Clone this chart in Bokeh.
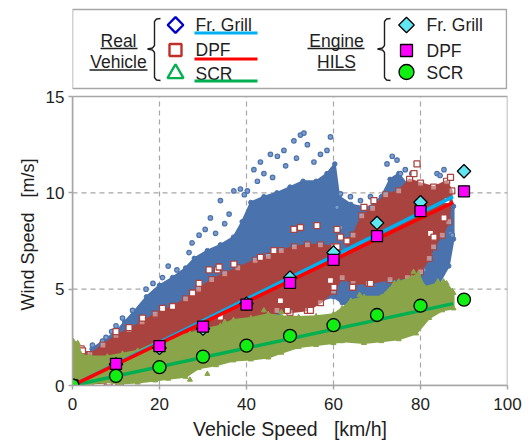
from bokeh.plotting import figure
from bokeh.models import Range1d, FixedTicker, Title
from bokeh.embed import file_html
from bokeh.resources import INLINE
from bokeh.core.properties import value
import math

FONT = "Liberation Sans"
TXT = "#1e1e1e"

# ---------------- data ----------------
speed_ticks = [0, 20, 40, 60, 80, 100]
wind_ticks = [0, 5, 10, 15]
x_title = "Vehicle Speed \u00a0\u00a0[km/h]"
y_title = "Wind Speed \u00a0\u00a0[m/s]"

# Engine HILS results
hils_speed = [0, 10, 20, 30, 40, 50, 60, 70, 80, 90]
hils_grill = [0, 1.10, 1.95, 2.95, 4.25, 5.60, 6.90, 8.44, 9.51, 11.12]
hils_dpf = [0, 1.12, 2.04, 3.06, 4.20, 5.33, 6.52, 7.75, 9.05, 10.08]
hils_scr = [0, 0.50, 0.95, 1.50, 2.07, 2.58, 3.13, 3.66, 4.14, 4.46]

# Real-vehicle regression lines
fit_speed = [0, 87.5]
fit_grill = [0, 9.80]
fit_dpf = [0, 9.50]
fit_scr = [0, 4.25]

# Real-vehicle measurement clouds: outline of the dense region (speed, wind)
grill_cloud_v = [2.5, 3.0, 4.5, 7.0, 10.0, 12.0, 14.0, 17.0, 20.0, 23.0, 26.0, 28.0, 31.0, 34.0, 37.0,
                 39.0, 41.0, 44.0, 47.0, 50.0, 53.0, 56.0, 58.5, 60.3, 61.3, 64.0, 68.0, 71.0, 73.0,
                 75.0, 77.0, 79.5, 82.0, 84.0, 86.0, 87.6, 87.6, 86.5,
                 84.0, 80.0, 75.0, 70.0, 65.0, 62.0, 60.0, 55.0, 50.0, 45.0, 40.0, 35.0, 30.0,
                 25.0, 20.0, 15.0, 10.0, 5.0]
grill_cloud_w = [0.3, 1.3, 1.9, 2.3, 2.8, 3.3, 3.8, 4.6, 5.2, 5.6, 6.1, 6.6, 7.0, 7.3, 7.7,
                 8.5, 9.5, 9.8, 10.0, 10.3, 10.6, 10.6, 11.0, 11.5, 9.8, 9.4, 9.2, 9.8, 10.7,
                 11.0, 10.4, 10.1, 9.8, 10.3, 10.5, 9.3, 7.6, 6.2,
                 5.2, 4.6, 4.2, 3.9, 3.9, 4.3, 4.6, 4.3, 3.9, 3.5, 3.1, 2.8, 2.5,
                 2.1, 1.8, 1.4, 0.9, 0.4]

dpf_cloud_v = [0.0, 0.4, 2.0, 4.0, 7.0, 10.0, 13.0, 16.0, 19.0, 23.0, 26.0, 29.0, 32.0, 35.0, 38.0,
               42.0, 45.0, 48.0, 51.0, 54.0, 57.0, 60.0, 62.5, 64.5, 66.5, 69.0, 72.0, 75.0, 77.5,
               80.0, 83.0, 86.0, 87.2, 86.5, 85.0, 83.0, 82.0, 80.0, 77.0, 73.0, 68.0, 64.5, 62.0,
               60.0, 57.0, 54.0, 50.0, 47.0, 44.0, 40.0, 35.0, 30.0, 25.0, 20.0, 15.0, 11.0, 8.0, 4.0]
dpf_cloud_w = [0.3, 1.6, 1.9, 1.6, 2.1, 2.6, 2.9, 3.3, 3.7, 4.1, 4.5, 5.0, 5.5, 5.8, 6.1,
               6.5, 6.7, 7.0, 7.2, 7.3, 7.3, 7.2, 6.9, 7.8, 8.8, 9.2, 9.9, 10.1, 10.7,
               10.5, 10.3, 10.6, 10.1, 8.5, 7.8, 7.2, 6.6, 5.9, 5.6, 5.5, 5.3, 5.3, 5.6,
               4.9, 4.3, 3.9, 3.8, 3.9, 3.4, 2.9, 2.3, 1.7, 1.1, 0.7, 0.4, 0.2, 0.15, 0.1]

scr_cloud_v = [0.0, 0.2, 1.2, 2.0, 4.0, 8.0, 11.5, 15.0, 19.0, 23.0, 27.0, 30.0, 34.0, 37.0, 41.0,
               45.0, 48.0, 52.0, 56.0, 60.0, 62.0, 64.0, 67.0, 71.0, 74.0, 78.0, 79.5, 81.0, 84.0,
               86.0, 87.6, 87.6, 85.0, 82.0, 79.0, 75.0, 71.0, 67.0, 62.0, 60.0, 56.0, 52.0, 48.0,
               45.0, 41.0, 37.0, 33.0, 29.0, 26.0, 22.0, 19.0, 15.0, 11.0, 7.0, 3.0]
scr_cloud_w = [0.0, 2.3, 2.2, 1.6, 1.5, 1.5, 1.65, 1.8, 2.2, 2.5, 2.7, 2.9, 3.1, 3.4, 3.5,
               3.7, 3.6, 3.55, 3.6, 3.7, 4.0, 4.4, 4.6, 4.6, 5.3, 5.6, 5.8, 5.1, 5.3,
               5.3, 4.8, 4.0, 3.9, 3.5, 2.7, 2.4, 2.3, 2.2, 2.3, 2.2, 2.1, 2.0, 1.7,
               1.45, 1.35, 1.3, 1.05, 0.9, 0.45, 0.35, 0.26, 0.15, 0.1, 0.2, 0.05]

# Real-vehicle scattered points outside the dense region (speed, wind)
grill_pts_v = [4.6, 6.9, 7.7, 10.0, 11.5, 13.8, 16.9, 20.7, 24.0, 26.8, 29.1, 31.7, 32.9, 34.0, 36.0,
               37.1, 38.6, 40.2, 41.7, 43.2, 45.5, 47.1, 48.6, 50.9, 52.4, 53.2, 54.0, 57.0, 58.5,
               59.3, 61.6, 63.9, 66.2, 68.5, 72.3, 74.6, 75.4, 83.8, 85.4, 86.9, 87.3, 65.4, 67.7,
               82.3, 80.8, 60.8, 61.6, 39.5, 42.5, 44.0, 46.0, 49.0, 51.5, 55.5, 35.0, 30.5, 27.5,
               18.5, 22.0, 9.0, 73.5, 76.5, 78.0, 84.5]
grill_pts_w = [2.1, 2.3, 2.5, 3.1, 3.5, 3.9, 5.0, 5.6, 6.0, 6.9, 7.8, 8.7, 7.9, 9.6, 8.9,
               10.1, 10.2, 10.1, 11.2, 11.6, 12.0, 11.9, 12.2, 12.7, 13.0, 13.1, 12.5, 12.0, 12.2,
               12.9, 9.95, 9.8, 9.6, 9.8, 11.5, 11.7, 11.0, 11.0, 11.2, 7.9, 7.8, 4.06, 4.2,
               6.8, 6.0, 9.25, 8.2, 9.9, 10.6, 11.0, 10.8, 11.4, 11.8, 11.6, 8.4, 8.1, 7.4,
               5.3, 6.2, 2.8, 11.9, 11.2, 11.0, 10.9]

dpf_pts_v = [2.3, 8.4, 10.7, 10.0, 13.0, 16.1, 20.7, 23.0, 27.6, 29.1, 31.4, 33.3, 33.7, 34.0, 37.1,
             43.2, 46.3, 47.8, 49.4, 50.9, 52.4, 54.7, 56.2, 59.3, 60.1, 60.8, 60.8, 61.6, 63.1,
             64.4, 67.0, 68.5, 69.3, 78.5, 79.2, 82.3, 83.1, 85.4, 86.1, 86.9]
dpf_pts_w = [1.8, 0.17, 0.17, 2.8, 3.0, 3.5, 4.0, 4.1, 4.8, 5.3, 6.0, 6.0, 6.15, 3.55, 6.3,
             6.65, 7.0, 4.4, 3.9, 8.1, 8.2, 3.9, 8.3, 5.45, 5.1, 8.1, 7.2, 7.7, 7.5,
             5.1, 9.25, 5.3, 9.6, 11.0, 11.5, 7.9, 7.7, 8.7, 9.6, 10.8]

scr_pts_v = [0.3, 1.0, 59.3, 61.6, 78.4, 85.3, 87.3, 84.0, 75.0, 66.0, 48.0, 44.0, 35.0, 31.0, 27.0]
scr_pts_w = [2.2, 2.0, 2.33, 2.3, 5.9, 5.4, 4.9, 5.4, 5.4, 4.7, 3.8, 3.9, 3.3, 0.6, 0.3]

# legend texts
real_group = ["Real", "Vehicle"]
hils_group = ["Engine", "HILS"]
series_names = ["Fr. Grill", "DPF", "SCR"]

# ---------------- colours ----------------
C_BLUE = "#4A72AD"
C_RED = "#A8433F"
C_GREEN = "#8AA549"
L_BLUE = "#00B0F0"
L_RED = "#FF0000"
L_GREEN = "#00B050"
H_CYAN = "#5FE6F0"
H_MAG = "#FF00FF"
H_GRN = "#11EE11"
GRID = "#A6A6A6"

# ---------------- layout geometry ----------------
FRAME_TOP = 5          # pixel row of the top of the drawing frame
FRAME_BOTTOM = 385     # pixel row of wind speed 0
PX_PER_UNIT = 289 / 15.0
y_top = 15 + (96 - FRAME_TOP) / PX_PER_UNIT   # room above the axes for the legend

p = figure(width=529, height=441, frame_width=435, frame_height=FRAME_BOTTOM - FRAME_TOP,
           x_range=Range1d(0, 100), y_range=Range1d(0, y_top),
           toolbar_location=None, output_backend="svg",
           min_border_left=72, min_border_right=22, min_border_top=FRAME_TOP, min_border_bottom=56)
# pixel-coordinate ranges for the legend panel above the axes
p.extra_x_ranges = {"px": Range1d(72, 507)}
p.extra_y_ranges = {"py": Range1d(FRAME_BOTTOM, FRAME_TOP)}
p.background_fill_color = "white"
p.border_fill_color = "white"
p.outline_line_color = None
p.xgrid.visible = False
p.ygrid.visible = False

for ax, ticks in ((p.xaxis, speed_ticks), (p.yaxis, wind_ticks)):
    ax.ticker = FixedTicker(ticks=ticks)
    ax.axis_line_color = GRID
    ax.axis_line_width = 1.5
    ax.major_tick_line_color = GRID
    ax.major_tick_line_width = 1.5
    ax.major_tick_out = 4
    ax.major_tick_in = 0
    ax.minor_tick_line_color = None
    ax.major_label_text_font = FONT
    ax.major_label_text_font_size = "17px"
    ax.major_label_text_color = TXT
p.xaxis.major_label_standoff = 8
p.yaxis.major_label_standoff = 4
p.yaxis.bounds = (0, 15)

# axis titles as side-panel titles (so that they can be placed precisely)
p.add_layout(Title(text=x_title, align="center", standoff=6, text_font=FONT, text_font_size="19.5px",
                   text_font_style="normal", text_color=TXT), "below")
p.add_layout(Title(text=y_title, align="left", offset=75, standoff=10, text_font=FONT,
                   text_font_size="18px", text_font_style="normal", text_color=TXT), "left")

# dashed grid (inner ticks only) and the plot-area frame
p.segment(x0=speed_ticks[1:-1], y0=0, x1=speed_ticks[1:-1], y1=wind_ticks[-1],
          line_color=GRID, line_width=1.2, line_dash="5 4")
p.segment(x0=0, y0=wind_ticks[1:-1], x1=speed_ticks[-1], y1=wind_ticks[1:-1],
          line_color=GRID, line_width=1.2, line_dash="5 4")
p.quad(left=[speed_ticks[0]], right=[speed_ticks[-1]], bottom=[wind_ticks[0]], top=[wind_ticks[-1]],
       fill_color=None, line_color=GRID, line_width=1.5)

# clouds: blue, red, green
p.patch(grill_cloud_v, grill_cloud_w, fill_color=C_BLUE, line_color=C_BLUE, line_width=2)
p.scatter(grill_cloud_v, grill_cloud_w, marker="circle", size=4.5, fill_color=C_BLUE, line_color=C_BLUE)
p.scatter(grill_pts_v, grill_pts_w, marker="circle", size=4.5, fill_color="#7E9CCB", line_color=C_BLUE, line_width=1.2)

p.patch(dpf_cloud_v, dpf_cloud_w, fill_color=C_RED, line_color=C_RED, line_width=2)
p.scatter(dpf_cloud_v, dpf_cloud_w, marker="square", size=6, fill_color="white", fill_alpha=0.4,
          line_color=C_RED, line_width=1.2)
p.scatter(dpf_pts_v, dpf_pts_w, marker="square", size=6, fill_color="white", line_color=C_RED, line_width=1.3)

p.patch(scr_cloud_v, scr_cloud_w, fill_color=C_GREEN, line_color=C_GREEN, line_width=2)
p.scatter(scr_cloud_v, scr_cloud_w, marker="triangle", size=5, fill_color=C_GREEN, line_color=C_GREEN)
p.scatter(scr_pts_v, scr_pts_w, marker="triangle", size=5, fill_color=C_GREEN, line_color=C_GREEN)

# regression lines
p.line(fit_speed, fit_scr, line_color=L_GREEN, line_width=3.5)
p.line(fit_speed, fit_grill, line_color=L_BLUE, line_width=3.5)
p.line(fit_speed, fit_dpf, line_color=L_RED, line_width=3.5)

# HILS markers
p.scatter(hils_speed, hils_grill, marker="square", angle=math.pi / 4, size=9.5,
          fill_color=H_CYAN, line_color="black", line_width=1.3)
p.scatter(hils_speed, hils_dpf, marker="square", size=11,
          fill_color=H_MAG, line_color="black", line_width=1.3)
p.scatter(hils_speed, hils_scr, marker="circle", size=13,
          fill_color=H_GRN, line_color="black", line_width=1.3)

# ---------------- legend (pixel coordinates) ----------------
L = dict(x_range_name="px", y_range_name="py")
p.quad(left=[72], right=[506], top=[9], bottom=[88], fill_color="white", line_color=GRID, line_width=1.5, **L)

p.text(x=[118, 118, 336, 336], y=[40, 61, 40, 61], text=real_group + hils_group,
       text_font=value(FONT), text_font_size="17.5px", text_color=TXT,
       text_align="center", text_baseline="middle", **L)
p.multi_line(xs=[[100, 137], [89, 147], [307, 364], [317, 355]],
             ys=[[48, 48], [69.5, 69.5], [48, 48], [69.5, 69.5]], line_color=TXT, line_width=1.3, **L)

for bx in (154, 384):
    p.line([bx + 6, bx + 2, bx, bx, bx - 2, bx - 7, bx - 2, bx, bx, bx + 2, bx + 6],
           [18, 18.5, 21, 45, 47.5, 48.5, 49.5, 52, 77, 79.5, 80],
           line_color=TXT, line_width=1.4, **L)

p.scatter([175], [24.5], marker="square", angle=math.pi / 4, size=11, fill_color=None,
          line_color="#0000CC", line_width=2.4, **L)
p.scatter([175], [49.5], marker="square", size=12, fill_color=None, line_color="#C0302A", line_width=2.4, **L)
p.scatter([175], [73], marker="triangle", size=16, fill_color=None, line_color=L_GREEN, line_width=2.4, **L)
p.text(x=[195, 195, 195], y=[24.5, 49.5, 73.5], text=series_names,
       text_font=value(FONT), text_font_size="17.5px", text_color=TXT, text_baseline="middle", **L)
p.multi_line(xs=[[194, 257], [194, 257], [194, 257]], ys=[[32.5, 32.5], [58.5, 58.5], [80.5, 80.5]],
             line_color=[L_BLUE, L_RED, L_GREEN], line_width=3, **L)

p.scatter([406], [24.5], marker="square", angle=math.pi / 4, size=11, fill_color=H_CYAN,
          line_color="black", line_width=1.3, **L)
p.scatter([406], [50], marker="square", size=12, fill_color=H_MAG, line_color="black", line_width=1.3, **L)
p.scatter([406], [71.5], marker="circle", size=15, fill_color=H_GRN, line_color="black", line_width=1.3, **L)
p.text(x=[426, 426, 426], y=[24.5, 50, 72], text=series_names,
       text_font=value(FONT), text_font_size="17.5px", text_color=TXT, text_baseline="middle", **L)

open("out.html", "w").write(file_html(p, INLINE))
